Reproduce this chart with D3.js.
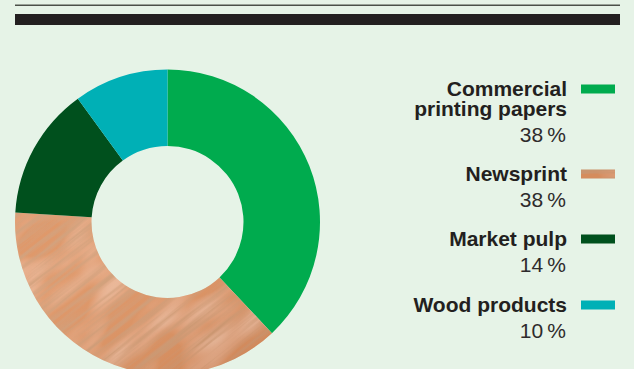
<!DOCTYPE html>
<html>
<head>
<meta charset="utf-8">
<script src="https://cdn.jsdelivr.net/npm/d3@7"></script>
<style>
  html, body { margin: 0; padding: 0; background: #e6f3e7; }
  svg { display: block; }
</style>
</head>
<body>
<svg id="chart" width="634" height="369"></svg>
<script>
// Revenue split by business area
const categories = ["Commercial printing papers", "Newsprint", "Market pulp", "Wood products"];
const labelLines = [["Commercial", "printing papers"], ["Newsprint"], ["Market pulp"], ["Wood products"]];
const shares = [38, 38, 14, 10];
const shareLabels = ["38\u2009%", "38\u2009%", "14\u2009%", "10\u2009%"];
const colors = ["#00ab4e", "wood", "#00501d", "#00b0b6"];

const W = 634, H = 369;
const svg = d3.select("#chart");
const defs = svg.append("defs");

// Wood grain texture made from stretched fractal noise
const f = defs.append("filter").attr("id", "woodgrain")
  .attr("filterUnits", "objectBoundingBox")
  .attr("x", 0).attr("y", 0).attr("width", 1).attr("height", 1);
f.append("feFlood").attr("flood-color", "#dc9363").attr("result", "base");
// broad lighter patches
f.append("feTurbulence").attr("type", "fractalNoise")
  .attr("baseFrequency", "0.015 0.035").attr("numOctaves", 2).attr("seed", 11).attr("result", "noise2");
f.append("feColorMatrix").attr("in", "noise2").attr("type", "matrix")
  .attr("values", "0 0 0 0 0.93  0 0 0 0 0.67  0 0 0 0 0.52  1.6 0 0 0 -0.68")
  .attr("result", "light");
// fine dark grain streaks
f.append("feTurbulence").attr("type", "fractalNoise")
  .attr("baseFrequency", "0.008 0.22").attr("numOctaves", 4).attr("seed", 5).attr("result", "noise");
f.append("feColorMatrix").attr("in", "noise").attr("type", "matrix")
  .attr("values", "0 0 0 0 0.62  0 0 0 0 0.34  0 0 0 0 0.19  2.8 0 0 0 -1.12")
  .attr("result", "grain");
f.append("feComposite").attr("in", "light").attr("in2", "base").attr("operator", "over").attr("result", "lit");
f.append("feComposite").attr("in", "grain").attr("in2", "lit").attr("operator", "over").attr("result", "wood");
f.append("feGaussianBlur").attr("in", "wood").attr("stdDeviation", 0.5).attr("result", "soft");
f.append("feComposite").attr("in", "soft").attr("in2", "SourceGraphic").attr("operator", "in");

// darker tone towards the lower right of the wood slice
const shade = defs.append("linearGradient").attr("id", "woodshade")
  .attr("x1", 0).attr("y1", 0).attr("x2", 1).attr("y2", 1);
shade.append("stop").attr("offset", "0.3").attr("stop-color", "#f6c4a2").attr("stop-opacity", 0.12);
shade.append("stop").attr("offset", "1").attr("stop-color", "#9a4e22").attr("stop-opacity", 0.3);

// Header rules
svg.append("line")
  .attr("x1", 15).attr("x2", 620).attr("y1", 5.3).attr("y2", 5.3)
  .attr("stroke", "#4b5049").attr("stroke-width", 1.6);
svg.append("rect")
  .attr("x", 15).attr("y", 14).attr("width", 605).attr("height", 11)
  .attr("fill", "#231f20");

// Donut
const cx = 167.5, cy = 222;
const pie = d3.pie().sort(null).value(d => d)(shares);
const arc = d3.arc().innerRadius(76).outerRadius(152.5);

const donut = svg.append("g").attr("transform", `translate(${cx},${cy})`);
pie.forEach((p, i) => {
  if (colors[i] === "wood") {
    const clipId = "clip-slice-" + i;
    defs.append("clipPath").attr("id", clipId)
      .append("path").attr("d", arc(p));
    const g = donut.append("g").attr("clip-path", `url(#${clipId})`);
    g.append("rect")
      .attr("x", -230).attr("y", -230).attr("width", 460).attr("height", 460)
      .attr("transform", "rotate(-38)")
      .attr("fill", "#fff")
      .attr("filter", "url(#woodgrain)");
    g.append("rect")
      .attr("x", -155).attr("y", -20).attr("width", 300).attr("height", 175)
      .attr("fill", "url(#woodshade)");
  } else {
    donut.append("path").attr("d", arc(p)).attr("fill", colors[i]);
  }
});

// Legend
const font = "'Liberation Sans', Arial, Helvetica, sans-serif";
const textRight = 567;
const baselines = [96, 181, 246, 312];
const lineGap = 20, pctGap = 25.5;

const legend = svg.append("g");
categories.forEach((c, i) => {
  const lines = labelLines[i];
  const y0 = baselines[i];
  const t = legend.append("text")
    .attr("text-anchor", "end")
    .attr("font-family", font)
    .attr("font-weight", "bold")
    .attr("font-size", 21)
    .attr("fill", "#231f20");
  lines.forEach((ln, j) => {
    t.append("tspan").attr("x", textRight).attr("y", y0 + j * lineGap).text(ln);
  });
  legend.append("text")
    .attr("x", textRight - 1)
    .attr("y", y0 + (lines.length - 1) * lineGap + pctGap)
    .attr("text-anchor", "end")
    .attr("font-family", font)
    .attr("font-size", 21)
    .attr("fill", "#2e2b2c")
    .text(shareLabels[i]);

  const sx = 581, sy = y0 - 11.5, sw = 34, sh = 9;
  if (colors[i] === "wood") {
    legend.append("rect")
      .attr("x", sx).attr("y", sy).attr("width", sw).attr("height", sh)
      .attr("fill", "#fff")
      .attr("filter", "url(#woodgrain)");
    legend.append("rect")
      .attr("x", sx).attr("y", sy).attr("width", sw).attr("height", sh)
      .attr("fill", "#a85a30").attr("fill-opacity", 0.12);
  } else {
    legend.append("rect")
      .attr("x", sx).attr("y", sy).attr("width", sw).attr("height", sh)
      .attr("fill", colors[i]);
  }
});
</script>
</body>
</html>
